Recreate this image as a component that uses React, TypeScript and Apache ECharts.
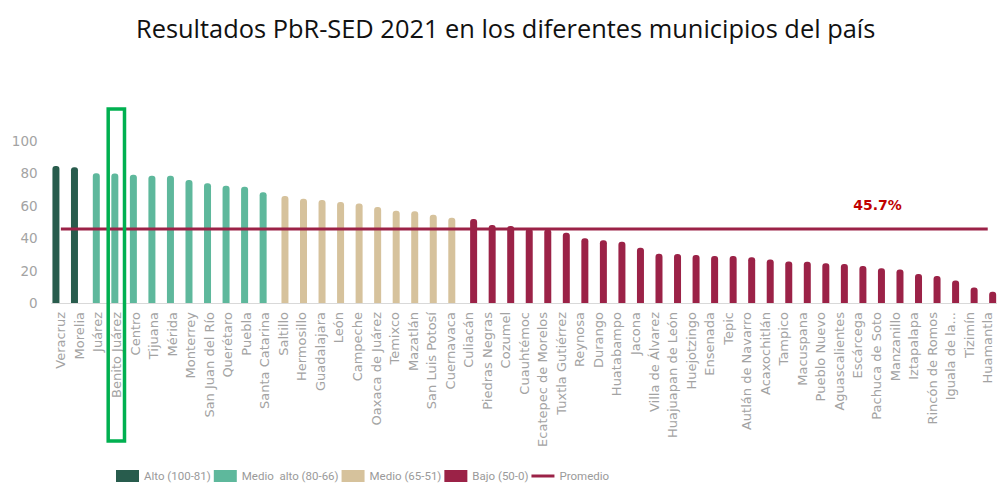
import React, { useEffect, useRef } from "react";
import * as echarts from "echarts";

const TITLE = "Resultados PbR-SED 2021 en los diferentes municipios del país";

const altoCats = ["Veracruz", "Morelia"];
const altoVals = [84.5, 83.8];

const medioAltoCats = ["Juárez", "Benito Juárez", "Centro", "Tijuana", "Mérida", "Monterrey", "San Juan del Río", "Querétaro", "Puebla", "Santa Catarina"];
const medioAltoVals = [80.1, 80.0, 79.2, 78.6, 78.5, 76.0, 73.9, 72.3, 71.7, 68.4];

const medioCats = ["Saltillo", "Hermosillo", "Guadalajara", "León", "Campeche", "Oaxaca de Juárez", "Temixco", "Mazatlán", "San Luis Potosí", "Cuernavaca"];
const medioVals = [66.1, 64.3, 63.6, 62.3, 61.4, 59.3, 56.9, 56.7, 54.4, 52.6];

const bajoCats = ["Culiacán", "Piedras Negras", "Cozumel", "Cuauhtémoc", "Ecatepec de Morelos", "Tuxtla Gutiérrez", "Reynosa", "Durango", "Huatabampo", "Jacona", "Villa de Álvarez", "Huajuapan de León", "Huejotzingo", "Ensenada", "Tepic", "Autlán de Navarro", "Acaxochitlán", "Tampico", "Macuspana", "Pueblo Nuevo", "Aguascalientes", "Escárcega", "Pachuca de Soto", "Manzanillo", "Iztapalapa", "Rincón de Romos", "Iguala de la...", "Tizimín", "Huamantla"];
const bajoVals = [51.9, 48.2, 47.6, 45.9, 45.5, 43.3, 40.0, 38.8, 37.8, 34.1, 30.4, 30.2, 29.6, 29.0, 29.0, 28.3, 26.9, 25.6, 25.4, 24.6, 24.0, 22.8, 21.5, 20.7, 17.9, 16.6, 13.9, 9.6, 7.0];

const PROMEDIO = 45.7;
const PROMEDIO_LABEL = "45.7%";

const groupNames = ["Alto (100-81)", "Medio  alto (80-66)", "Medio (65-51)", "Bajo (50-0)"];
const promedioName = "Promedio";
const yTicks = [0, 20, 40, 60, 80, 100];

const COLORS = ["#285c4d", "#5eb89c", "#d6c29c", "#9b2247"];
const LABEL_GRAY = "#a3a3a3";

export default function App() {
  const ref = useRef<HTMLDivElement>(null);

  useEffect(() => {
    if (!ref.current) return;
    const chart = echarts.init(ref.current, undefined, { renderer: "svg" });

    const groups = [
      { cats: altoCats, vals: altoVals },
      { cats: medioAltoCats, vals: medioAltoVals },
      { cats: medioCats, vals: medioVals },
      { cats: bajoCats, vals: bajoVals },
    ];
    const categories: string[] = [];
    groups.forEach((g) => categories.push(...g.cats));

    let offset = 0;
    const barSeries = groups.map((g, gi) => {
      const data: (number | null)[] = categories.map(() => null);
      g.vals.forEach((v, j) => {
        data[offset + j] = v;
      });
      offset += g.vals.length;
      return {
        name: groupNames[gi],
        type: "bar",
        data,
        barWidth: 7,
        barGap: "-53%",
        itemStyle: { color: COLORS[gi], borderRadius: [3, 3, 0, 0] },
      };
    });

    chart.setOption({
      animation: false,
      title: {
        text: TITLE,
        left: 131,
        top: 10,
        textStyle: { fontFamily: "'Open Sans'", fontSize: 25.4, fontWeight: "normal", color: "#111" },
      },
      legend: {
        left: 111,
        top: 465,
        itemWidth: 23,
        itemHeight: 12,
        itemGap: 3,
        icon: "rect",
        textStyle: { fontFamily: "Roboto", fontSize: 11.5, color: "#9a9a9a" },
        data: [
          ...groupNames.map((n) => ({ name: n, icon: "rect" })),
          { name: promedioName, icon: "path://M0,0 L23,0 L23,3 L0,3 Z" },
        ],
      },
      grid: { left: 51.6, right: 0, top: 141, bottom: 182 },
      xAxis: {
        type: "category",
        data: categories,
        boundaryGap: true,
        axisTick: { show: false },
        axisLine: { lineStyle: { color: "#d9d9d9", width: 1 } },
        axisLabel: {
          interval: 0,
          rotate: 90,
          margin: 9,
          fontFamily: "'DejaVu Sans'",
          fontSize: 13,
          color: LABEL_GRAY,
        },
      },
      yAxis: {
        type: "value",
        min: yTicks[0],
        max: yTicks[yTicks.length - 1],
        interval: 20,
        axisLine: { show: false },
        axisTick: { show: false },
        splitLine: { show: false },
        axisLabel: { margin: 14, fontFamily: "'DejaVu Sans'", fontSize: 13.5, color: LABEL_GRAY },
      },
      series: [
        ...barSeries,
        {
          name: promedioName,
          type: "line",
          data: categories.map(() => PROMEDIO),
          symbol: "none",
          lineStyle: { color: "#9b2247", width: 3 },
          itemStyle: { color: "#9b2247" },
          z: 5,
        },
      ],
      graphic: [
        {
          type: "text",
          x: 877.5,
          y: 205,
          style: {
            text: PROMEDIO_LABEL,
            align: "center",
            verticalAlign: "middle",
            font: "bold 14px 'DejaVu Sans'",
            fill: "#c00000",
          },
        },
        {
          type: "rect",
          shape: { x: 108.2, y: 109, width: 16.3, height: 332 },
          style: { fill: "none", stroke: "#00b050", lineWidth: 3.5 },
          z: 100,
        },
      ],
    });

    return () => chart.dispose();
  }, []);

  return <div ref={ref} style={{ position: "absolute", left: 0, top: 0, width: 997, height: 485 }} />;
}
